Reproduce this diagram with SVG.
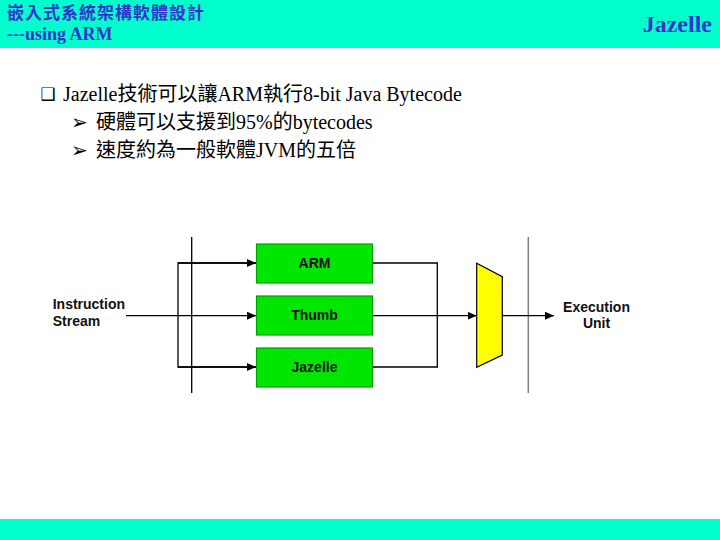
<svg xmlns="http://www.w3.org/2000/svg" width="720" height="540" viewBox="0 0 720 540">
<style>
.hdr{font-family:"Noto Sans CJK TC","Noto Sans CJK SC",sans-serif;font-weight:bold;fill:#3333CC}
.tim{font-family:"Liberation Serif","Noto Sans CJK TC",serif;fill:#3333CC}
.body{font-family:"Liberation Serif","Noto Sans CJK TC",serif;font-size:20px;fill:#000}
.sym{font-family:"DejaVu Sans",sans-serif;fill:#000}
.lbl{font-family:"Liberation Sans",Arial,sans-serif;font-weight:bold;font-size:14px;fill:#111}
.box{fill:#00E600;stroke:#00A000;stroke-width:1.2}
.ln{stroke:#000;stroke-width:1.3;fill:none}
</style>
<defs>
<marker id="ah" markerWidth="9" markerHeight="8" refX="9" refY="4" orient="auto" markerUnits="userSpaceOnUse">
<path d="M0,0 L9,4 L0,8 Z" fill="#000"/>
</marker>
</defs>
<rect x="0" y="0" width="720" height="540" fill="#fff"/>
<rect x="0" y="0" width="720" height="48" fill="#00FFCC"/>
<rect x="0" y="519" width="720" height="21" fill="#00FFCC"/>
<text class="hdr" x="7" y="19" font-size="17" letter-spacing="1">嵌入式系統架構軟體設計</text>
<text class="tim" x="7" y="40" font-size="18" font-weight="bold">---using ARM</text>
<text class="tim" x="712" y="32" font-size="24" font-weight="bold" text-anchor="end">Jazelle</text>

<g id="bullets">
<text class="sym" x="40.5" y="99.5" font-size="17">❑</text>
<text class="body" x="63" y="101">Jazelle技術可以讓ARM執行8-bit Java Bytecode</text>
<text class="sym" x="71" y="129" font-size="20">➢</text>
<text class="body" x="96" y="129">硬體可以支援到95%的bytecodes</text>
<text class="sym" x="71" y="157" font-size="20">➢</text>
<text class="body" x="96" y="157">速度約為一般軟體JVM的五倍</text>
</g>

<g id="connectors">
<line class="ln" x1="191.7" y1="237" x2="191.7" y2="393"/>
<line x1="528.3" y1="237" x2="528.3" y2="393" stroke="#808080" stroke-width="1.5"/>
<line class="ln" x1="126" y1="315.7" x2="256" y2="315.7" marker-end="url(#ah)"/>
<path class="ln" d="M256,263 H178 V367 H256"/>
<line class="ln" x1="178" y1="263" x2="256" y2="263" marker-end="url(#ah)"/>
<line class="ln" x1="178" y1="367" x2="256" y2="367" marker-end="url(#ah)"/>
<path class="ln" d="M373,263 H437.3 V367 H373"/>
<line class="ln" x1="373" y1="315.7" x2="476.7" y2="315.7" marker-end="url(#ah)"/>
<line class="ln" x1="502.3" y1="315.7" x2="554" y2="315.7" marker-end="url(#ah)"/>
</g>

<g id="instr"><text class="lbl" x="52.7" y="309">Instruction</text><text class="lbl" x="52.7" y="325.7">Stream</text></g>
<g id="arm"><rect class="box" x="256.5" y="244" width="116" height="39"/><text class="lbl" x="314.5" y="268" text-anchor="middle">ARM</text></g>
<g id="thumb"><rect class="box" x="256.5" y="296" width="116" height="39"/><text class="lbl" x="314.5" y="320" text-anchor="middle">Thumb</text></g>
<g id="jazelle"><rect class="box" x="256.5" y="348" width="116" height="39"/><text class="lbl" x="314.5" y="372" text-anchor="middle">Jazelle</text></g>
<g id="mux"><polygon points="476.7,263.3 502.3,276.7 502.3,355 476.7,367.3" fill="#FFFF00" stroke="#000" stroke-width="1.2"/></g>
<g id="exec"><text class="lbl" x="596.5" y="311.7" text-anchor="middle">Execution</text><text class="lbl" x="596.5" y="328.3" text-anchor="middle">Unit</text></g>
</svg>
